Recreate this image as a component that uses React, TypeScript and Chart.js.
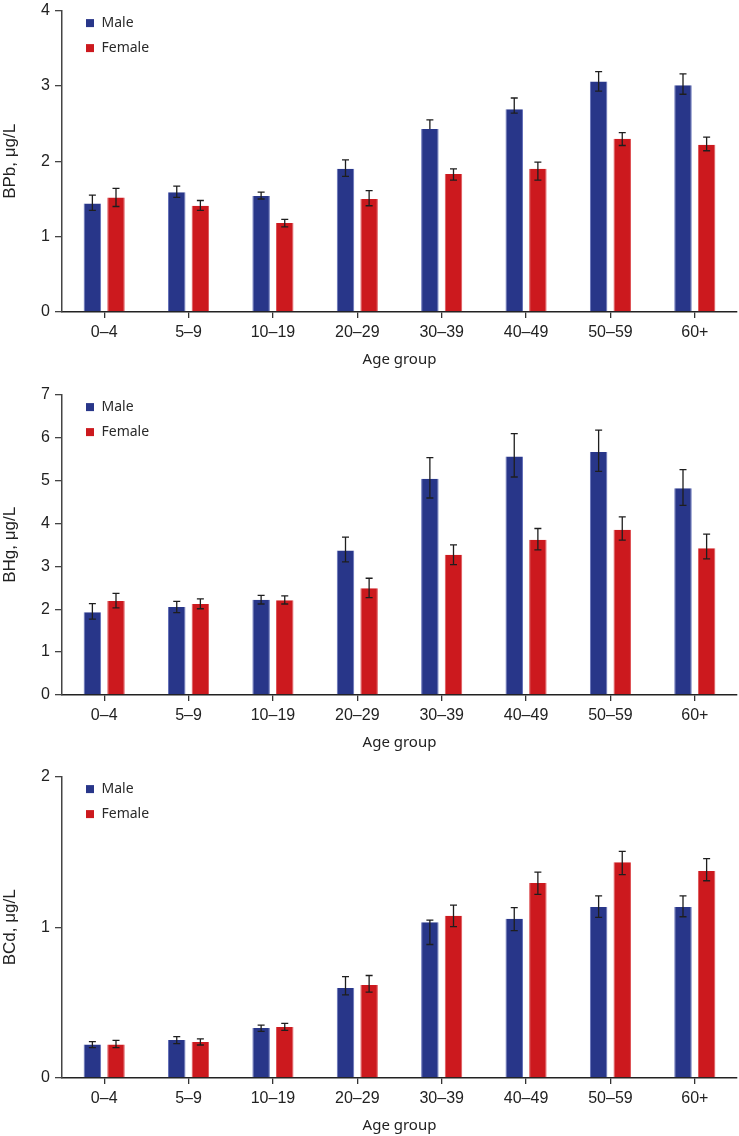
import React, { useEffect, useRef } from 'react';
import { Chart, registerables } from 'chart.js';

Chart.register(...registerables);

const categories = ['0–4', '5–9', '10–19', '20–29', '30–39', '40–49', '50–59', '60+'];
const seriesNames = ['Male', 'Female'];
const seriesColors = ['#283689', '#CC191E'];
const seriesEdges = ['#6470b8', '#de5256'];
const xTitle = 'Age group';

// Blood lead
const bpbMale = [1.44, 1.59, 1.54, 1.90, 2.43, 2.69, 3.06, 3.01];
const bpbMaleHi = [1.55, 1.67, 1.59, 2.02, 2.55, 2.84, 3.19, 3.16];
const bpbMaleLo = [1.35, 1.52, 1.50, 1.80, null, 2.64, 2.93, 2.89];
const bpbFemale = [1.52, 1.41, 1.18, 1.50, 1.83, 1.90, 2.30, 2.22];
const bpbFemaleHi = [1.64, 1.48, 1.23, 1.61, 1.90, 1.99, 2.38, 2.32];
const bpbFemaleLo = [1.40, 1.35, 1.13, 1.41, 1.75, 1.75, 2.21, 2.14];

// Blood mercury
const bhgMale = [1.93, 2.05, 2.22, 3.37, 5.04, 5.56, 5.66, 4.82];
const bhgMaleHi = [2.13, 2.18, 2.32, 3.68, 5.53, 6.09, 6.17, 5.25];
const bhgMaleLo = [1.77, 1.92, 2.12, 3.10, 4.59, 5.08, 5.21, 4.42];
const bhgFemale = [2.19, 2.12, 2.21, 2.49, 3.27, 3.62, 3.85, 3.42];
const bhgFemaleHi = [2.37, 2.24, 2.31, 2.72, 3.50, 3.88, 4.15, 3.75];
const bhgFemaleLo = [2.03, 2.01, 2.12, 2.27, 3.04, 3.38, 3.61, 3.17];

// Blood cadmium
const bcdMale = [0.222, 0.252, 0.331, 0.597, 1.033, 1.057, 1.134, 1.134];
const bcdMaleHi = [0.241, 0.274, 0.351, 0.673, 1.048, 1.13, 1.208, 1.208];
const bcdMaleLo = [0.202, 0.228, 0.309, 0.551, 0.886, 0.978, 1.066, 1.07];
const bcdFemale = [0.222, 0.239, 0.338, 0.617, 1.077, 1.294, 1.432, 1.373];
const bcdFemaleHi = [0.25, 0.259, 0.362, 0.68, 1.147, 1.366, 1.504, 1.456];
const bcdFemaleLo = [0.202, 0.219, 0.316, 0.57, 1.005, 1.219, 1.35, 1.309];

const yTitles = ['BPb, μg/L', 'BHg, μg/L', 'BCd, μg/L'];
const yMaxes = [4, 7, 2];

const panels = [
  { title: yTitles[0], max: yMaxes[0], values: [bpbMale, bpbFemale], hi: [bpbMaleHi, bpbFemaleHi], lo: [bpbMaleLo, bpbFemaleLo], top: -4, height: 376 },
  { title: yTitles[1], max: yMaxes[1], values: [bhgMale, bhgFemale], hi: [bhgMaleHi, bhgFemaleHi], lo: [bhgMaleLo, bhgFemaleLo], top: 380, height: 375 },
  { title: yTitles[2], max: yMaxes[2], values: [bcdMale, bcdFemale], hi: [bcdMaleHi, bcdFemaleHi], lo: [bcdMaleLo, bcdFemaleLo], top: 762, height: 376 },
];

const errorBarPlugin = {
  id: 'errorBars',
  afterDatasetsDraw(chart: any, _args: any, opts: any) {
    const ctx = chart.ctx;
    const y = chart.scales.y;
    chart.data.datasets.forEach((ds: any, di: number) => {
      const meta = chart.getDatasetMeta(di);
      const hi = opts.hi[di];
      const lo = opts.lo[di];
      meta.data.forEach((bar: any, i: number) => {
        const x = bar.x;
        const yv = y.getPixelForValue(ds.data[i]);
        ctx.save();
        ctx.strokeStyle = '#1e1e1e';
        ctx.lineWidth = 1.3;
        ctx.beginPath();
        if (hi[i] != null) {
          const yh = y.getPixelForValue(hi[i]);
          ctx.moveTo(x, yv);
          ctx.lineTo(x, yh);
          ctx.moveTo(x - 3.5, yh);
          ctx.lineTo(x + 3.5, yh);
        }
        if (lo[i] != null) {
          const yl = y.getPixelForValue(lo[i]);
          ctx.moveTo(x, yv);
          ctx.lineTo(x, yl);
          ctx.moveTo(x - 3.5, yl);
          ctx.lineTo(x + 3.5, yl);
        }
        ctx.stroke();
        ctx.restore();
      });
    });
  },
};

const insideLegendPlugin = {
  id: 'insideLegend',
  afterDraw(chart: any) {
    const ctx = chart.ctx;
    const { left, top } = chart.chartArea;
    chart.data.datasets.forEach((ds: any, i: number) => {
      const cy = top + 12.5 + i * 25;
      ctx.save();
      ctx.fillStyle = ds.backgroundColor;
      ctx.fillRect(left + 24, cy - 4, 8, 8);
      ctx.fillStyle = '#2a2a2a';
      ctx.font = '14px "Noto Sans"';
      ctx.textBaseline = 'middle';
      ctx.textAlign = 'left';
      ctx.fillText(ds.label, left + 39.5, cy);
      ctx.restore();
    });
  },
};

function Panel({ p }: { p: any }) {
  const ref = useRef<HTMLCanvasElement>(null);
  useEffect(() => {
    if (!ref.current) return;
    const chart = new Chart(ref.current, {
      type: 'bar',
      data: {
        labels: categories,
        datasets: seriesNames.map((name, i) => ({
          label: name,
          data: p.values[i],
          backgroundColor: seriesColors[i],
          borderColor: seriesEdges[i],
          borderWidth: { left: 1, right: 1, top: 0, bottom: 0 },
          categoryPercentage: 0.56,
          barPercentage: 0.74,
        })),
      },
      options: {
        responsive: false,
        animation: false,
        events: [],
        layout: { padding: { top: 12, right: 2, left: 0, bottom: 0 } },
        plugins: {
          legend: { display: false },
          tooltip: { enabled: false },
          errorBars: { hi: p.hi, lo: p.lo },
        } as any,
        scales: {
          x: {
            grid: { offset: false, drawOnChartArea: false, drawTicks: true, tickLength: 6, color: '#333', lineWidth: 1.3 },
            border: { display: true, color: '#222', width: 1.5 },
            ticks: { font: { family: '"Liberation Sans", Arial', size: 16 }, color: '#222', padding: 5, maxRotation: 0, autoSkip: false },
            title: { display: true, text: xTitle, font: { family: '"Noto Sans"', size: 15 }, color: '#222', padding: { top: 0, bottom: 3 } },
            afterFit: (scale: any) => { scale.height = 60; },
          },
          y: {
            min: 0,
            max: p.max,
            grid: { drawOnChartArea: false, drawTicks: true, tickLength: 7, color: '#444', lineWidth: 1.3 },
            border: { display: true, color: '#444', width: 1.5 },
            ticks: { stepSize: 1, font: { family: '"Liberation Sans", Arial', size: 16 }, color: '#222', padding: 5 },
            title: { display: true, text: p.title, font: { family: '"Liberation Sans", Arial', size: 17 }, color: '#222', padding: 0 },
            afterFit: (scale: any) => { scale.width = 62; },
          },
        },
      },
      plugins: [errorBarPlugin, insideLegendPlugin],
    });
    return () => chart.destroy();
  }, []);
  return (
    <canvas
      ref={ref}
      width={739}
      height={p.height}
      style={{ position: 'absolute', left: 0, top: p.top, width: 739, height: p.height, display: 'block' }}
    />
  );
}

export default function App() {
  return (
    <div style={{ position: 'absolute', left: 0, top: 0, width: 739, height: 1136, overflow: 'hidden', background: '#fff' }}>
      {panels.map((p, i) => (
        <Panel key={i} p={p} />
      ))}
    </div>
  );
}
